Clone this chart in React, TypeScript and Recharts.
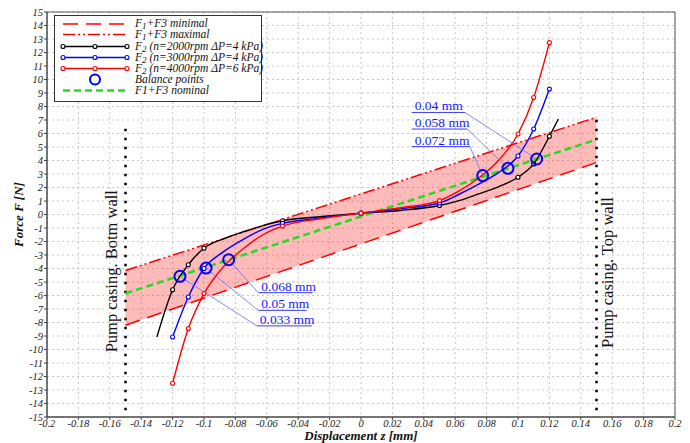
import React from "react"
import {
  ComposedChart, Line, Area, Scatter, XAxis, YAxis, CartesianGrid,
  ReferenceArea, ReferenceLine, ReferenceDot,
} from "recharts"

// axis ticks
const xTicks = [-0.2, -0.18, -0.16, -0.14, -0.12, -0.1, -0.08, -0.06, -0.04, -0.02, 0, 0.02, 0.04, 0.06, 0.08, 0.1, 0.12, 0.14, 0.16, 0.18, 0.2]
const yTicks = [-15, -14, -13, -12, -11, -10, -9, -8, -7, -6, -5, -4, -3, -2, -1, 0, 1, 2, 3, 4, 5, 6, 7, 8, 9, 10, 11, 12, 13, 14, 15]

// F1+F3 band (walls at +-0.15 mm)
const bandZ = [-0.15, 0.15]
const minF = [-8.2, 3.85]
const maxF = [-4.15, 7.2]
const nomF = [-5.85, 5.55]

// F2 curves
const z2000 = [-0.13, -0.12, -0.11, -0.1, -0.0875, -0.075, -0.0625, -0.05, -0.025, 0, 0.025, 0.05, 0.0625, 0.075, 0.0875, 0.1, 0.11, 0.12, 0.1257]
const f2000 = [-9.07, -5.57, -3.72, -2.5, -1.8, -1.28, -0.82, -0.46, -0.15, 0.1, 0.3, 0.67, 1.03, 1.53, 2.05, 2.76, 3.75, 5.79, 7.07]
const z3000 = [-0.12, -0.11, -0.1, -0.0875, -0.075, -0.0625, -0.05, -0.025, 0, 0.025, 0.05, 0.0625, 0.075, 0.0875, 0.1, 0.11, 0.12]
const f3000 = [-9.07, -6.11, -4.0, -2.75, -1.85, -1.1, -0.66, -0.25, 0.1, 0.42, 0.85, 1.5, 2.25, 3.1, 4.33, 6.33, 9.29]
const z4000 = [-0.12, -0.11, -0.1, -0.0875, -0.075, -0.0625, -0.05, -0.025, 0, 0.025, 0.05, 0.0625, 0.075, 0.0875, 0.1, 0.11, 0.12]
const f4000 = [-12.5, -8.45, -5.86, -3.85, -2.54, -1.5, -0.86, -0.3, 0.1, 0.5, 1.03, 1.75, 2.7, 4.0, 5.96, 8.67, 12.73]
const markerZ = [-0.12, -0.11, -0.1, -0.05, 0, 0.05, 0.1, 0.11, 0.12]

// balance points
const balZ = [-0.1153, -0.0987, -0.0843, 0.0775, 0.0936, 0.1119]
const balF = [-4.58, -3.97, -3.35, 2.88, 3.42, 4.11]

// annotations: text, underline from z0..z1 at f, leader to balance point
const noteText = ["0.033 mm", "0.05 mm", "0.068 mm", "0.072 mm", "0.058 mm", "0.04 mm"]
const noteZ0 = [-0.0664, -0.0654, -0.0654, 0.0323, 0.0323, 0.0323]
const noteZ1 = [-0.0314, -0.0346, -0.0308, 0.0694, 0.0677, 0.0662]
const noteF = [-8.25, -7.1, -5.79, 5.03, 6.33, 7.56]

// walls
const wallZ = [-0.15, 0.15]
const wallTop = [6.7, 7.2]
const wallBottom = [-14.5, -14.5]
const wallText = ["Pump casing. Botm wall", "Pump casing. Top wall"]
const wallTextZ = [-0.1586, 0.1573]
const wallTextF = [-4.2, -4.3]

const serif = "'Liberation Serif', 'Times New Roman', serif"

const toPts = (zs: number[], fs: number[]) => zs.map((z, i) => ({ z, F: fs[i] }))
const bandData = bandZ.map((z, i) => ({ z, band: [minF[i], maxF[i]] }))
const minData = toPts(bandZ, minF)
const maxData = toPts(bandZ, maxF)
const nomData = toPts(bandZ, nomF)
const balData = toPts(balZ, balF)

const marker = (color: string) => (p: any) =>
  markerZ.includes(p.payload.z)
    ? <circle key={p.index} cx={p.cx} cy={p.cy} r={2} fill="#fff" stroke={color} strokeWidth={1.1} />
    : <g key={p.index} />

const fmtX = (v: number) => String(Number(v.toFixed(2)))

function Legend() {
  const rows = [8, 18.5, 30.5, 41.5, 52.5, 63.5, 74.5]
  const lbl = (k: number) => ({ position: "absolute" as const, left: 80, top: rows[k] - 6, fontSize: 11.5, lineHeight: "11px", height: 11, whiteSpace: "nowrap" as const })
  const sub = { fontSize: 9, lineHeight: "9px", verticalAlign: "-2px" }
  return (
    <div style={{ position: "absolute", left: 54, top: 15, width: 206, height: 85, border: "1.5px solid #333", background: "#fff", fontFamily: serif, fontStyle: "italic", color: "#111" }}>
      <svg width={206} height={85} style={{ position: "absolute", left: 0, top: 0 }}>
        <line x1={8} x2={72} y1={rows[0]} y2={rows[0]} stroke="#f00" strokeWidth={1.5} strokeDasharray="15 8" />
        <line x1={8} x2={72} y1={rows[1]} y2={rows[1]} stroke="#f00" strokeWidth={1.5} strokeDasharray="12 3 2 3 2 3" />
        {[["#000", 2], ["#00f", 3], ["#f00", 4]].map(([c, r]) => (
          <g key={String(r)}>
            <line x1={8} x2={72} y1={rows[r as number]} y2={rows[r as number]} stroke={c as string} strokeWidth={1.5} />
            {[8, 40, 72].map((x) => <circle key={x} cx={x} cy={rows[r as number]} r={2} fill="#fff" stroke={c as string} strokeWidth={1.1} />)}
          </g>
        ))}
        <circle cx={40} cy={rows[5]} r={5} fill="none" stroke="#00f" strokeWidth={2} />
        <line x1={8} x2={72} y1={rows[6]} y2={rows[6]} stroke="#22dd22" strokeWidth={2.5} strokeDasharray="7 4" />
      </svg>
      <div style={lbl(0)}>F<span style={sub}>1</span>+F3 minimal</div>
      <div style={lbl(1)}>F<span style={sub}>1</span>+F3 maximal</div>
      <div style={lbl(2)}>F<span style={sub}>2</span> (n=2000rpm ΔP=4 kPa)</div>
      <div style={lbl(3)}>F<span style={sub}>2</span> (n=3000rpm ΔP=4 kPa)</div>
      <div style={lbl(4)}>F<span style={sub}>2</span> (n=4000rpm ΔP=6 kPa)</div>
      <div style={lbl(5)}>Balance points</div>
      <div style={lbl(6)}>F1+F3 nominal</div>
    </div>
  )
}

export default function App() {
  const tickStyle = { fontFamily: serif, fontStyle: "italic", fontSize: 10.5, fill: "#222" }
  return (
    <div style={{ position: "absolute", left: 0, top: 0, width: 690, height: 443, background: "#fff" }}>
      <ComposedChart width={690} height={443} margin={{ top: 12, right: 15, bottom: 0, left: 12 }}>
        <CartesianGrid stroke="#c8c8c8" strokeDasharray="2 3" />
        <XAxis
          dataKey="z" type="number" domain={[-0.2, 0.2]} ticks={xTicks} allowDataOverflow
          tickFormatter={fmtX} interval={0} height={26} tick={tickStyle} tickSize={3} tickMargin={0}
          stroke="#444"
          label={{
            content: ({ viewBox }: any) => (
              <text x={viewBox.x + viewBox.width / 2} y={viewBox.y + viewBox.height - 3} textAnchor="middle"
                fontFamily={serif} fontStyle="italic" fontWeight="bold" fontSize={13} fill="#111">
                Displacement z [mm]
              </text>
            ),
          }}
        />
        <YAxis
          dataKey="F" type="number" domain={[-15, 15]} ticks={yTicks} allowDataOverflow
          interval={0} width={35} tick={tickStyle} tickSize={3} tickMargin={1} stroke="#444"
          label={{
            content: ({ viewBox }: any) => (
              <text x={viewBox.x + 6} y={viewBox.y + viewBox.height / 2} transform={`rotate(-90 ${viewBox.x + 6} ${viewBox.y + viewBox.height / 2})`}
                textAnchor="middle" dominantBaseline="central" fontFamily={serif} fontStyle="italic" fontWeight="bold" fontSize={13} fill="#111">
                Force F [N]
              </text>
            ),
          }}
        />
        <ReferenceArea x1={-0.2} x2={0.2} y1={-15} y2={15} fill="none" stroke="#555" strokeWidth={1} />

        <Area data={bandData} dataKey="band" type="linear" stroke="none" fill="#ff0000" fillOpacity={0.27} isAnimationActive={false} />
        <Line data={minData} dataKey="F" type="linear" stroke="#f00" strokeWidth={1.5} strokeDasharray="15 8" dot={false} isAnimationActive={false} />
        <Line data={maxData} dataKey="F" type="linear" stroke="#f00" strokeWidth={1.5} strokeDasharray="12 3 2 3 2 3" dot={false} isAnimationActive={false} />

        {wallZ.map((z, i) => (
          <Line key={"w" + i} data={[{ z, F: wallBottom[i] }, { z, F: wallTop[i] }]} dataKey="F" type="linear" stroke="#000"
            strokeWidth={2.5} strokeDasharray="2.5 6.5" dot={false} isAnimationActive={false} />
        ))}
        {wallText.map((t, i) => (
          <ReferenceDot key={"wt" + i} x={wallTextZ[i]} y={wallTextF[i]} r={0}
            shape={(p: any) => (
              <text x={p.cx} y={p.cy} transform={`rotate(-90 ${p.cx} ${p.cy})`} textAnchor="middle" dominantBaseline="central"
                fontFamily={serif} fontSize={16.5} fill="#111">{t}</text>
            )} />
        ))}

        <Line data={nomData} dataKey="F" type="linear" stroke="#22dd22" strokeWidth={2.5} strokeDasharray="7 4" dot={false} isAnimationActive={false} />

        <Line data={toPts(z2000, f2000)} dataKey="F" type="monotone" stroke="#000" strokeWidth={1.4} dot={marker("#000")} isAnimationActive={false} />
        <Line data={toPts(z3000, f3000)} dataKey="F" type="monotone" stroke="#00f" strokeWidth={1.4} dot={marker("#00f")} isAnimationActive={false} />
        <Line data={toPts(z4000, f4000)} dataKey="F" type="monotone" stroke="#f00" strokeWidth={1.4} dot={marker("#f00")} isAnimationActive={false} />

        {noteText.map((t, i) => {
          const b = i < 3 ? { x: noteZ0[i], y: noteF[i] } : { x: noteZ1[i], y: noteF[i] }
          return (
            <React.Fragment key={"n" + i}>
              <ReferenceLine segment={[{ x: noteZ0[i], y: noteF[i] }, { x: noteZ1[i], y: noteF[i] }]} stroke="#3a3aff" strokeWidth={1} />
              <ReferenceLine segment={[{ x: balZ[i], y: balF[i] }, b]} stroke="#6a6aff" strokeWidth={0.8} />
              <ReferenceDot x={noteZ0[i]} y={noteF[i]} r={0}
                shape={(p: any) => (
                  <text x={p.cx + 3} y={p.cy - 2} fontFamily={serif} fontSize={13.5} fill="#1a1aff">{t}</text>
                )} />
            </React.Fragment>
          )
        })}

        <Scatter data={balData} dataKey="F" fill="none" isAnimationActive={false}
          shape={(p: any) => <circle cx={p.cx} cy={p.cy} r={5.5} fill="none" stroke="#00f" strokeWidth={2} />} />
      </ComposedChart>
      <Legend />
    </div>
  )
}
